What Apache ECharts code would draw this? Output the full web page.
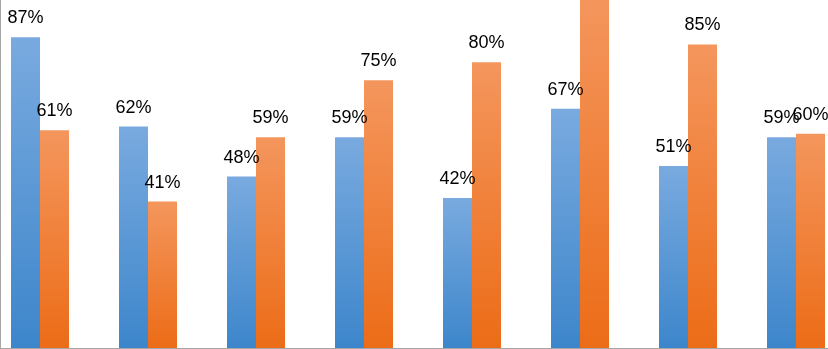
<!DOCTYPE html>
<html>
<head>
<meta charset="utf-8">
<script src="https://cdn.jsdelivr.net/npm/echarts@6/dist/echarts.min.js"></script>
<style>
  html, body { margin: 0; padding: 0; background: #fff; }
  #chart-1 { width: 828px; height: 349px; }
</style>
</head>
<body>
<div id="chart-1"></div>
<script>
const categories = ['1', '2', '3', '4', '5', '6', '7', '8'];
const seriesA = [87, 62, 48, 59, 42, 67, 51, 59];
const seriesB = [61, 41, 59, 75, 80, 98, 85, 60];

const TheChart = echarts.init(document.getElementById('chart-1'));

function grad(top, bottom) {
    return new echarts.graphic.LinearGradient(0, 0, 0, 1, [
        { offset: 0, color: top },
        { offset: 1, color: bottom }
    ]);
}

const label = {
    show: true,
    position: 'top',
    distance: 10,
    color: '#000',
    fontSize: 18,
    fontFamily: 'Liberation Sans',
    formatter: p => p.value + '%'
};

TheChart.setOption({
    animation: false,
    grid: { left: -14, right: -22, top: 0, bottom: 1, outerBoundsMode: 'none', containLabel: false },
    // left border of the cropped plot area
    graphic: [{
        type: 'line',
        shape: { x1: 0.5, y1: 0, x2: 0.5, y2: 349 },
        style: { stroke: '#a6a6a6', lineWidth: 1 }
    }],
    xAxis: {
        type: 'category',
        data: categories,
        axisLine: { lineStyle: { color: '#a6a6a6', width: 1 } },
        axisTick: { show: false },
        axisLabel: { show: false }
    },
    yAxis: {
        type: 'value',
        min: 0,
        max: 97.45,
        splitLine: { show: false },
        axisLine: { show: false },
        axisTick: { show: false },
        axisLabel: { show: false }
    },
    series: [{
        name: 'A',
        type: 'bar',
        data: seriesA,
        barWidth: 29,
        barGap: '0%',
        label: label,
        itemStyle: { color: grad('#79aadf', '#3d86cb') }
    }, {
        name: 'B',
        type: 'bar',
        data: seriesB,
        barWidth: 29,
        label: label,
        itemStyle: { color: grad('#f4965d', '#ec6c17') }
    }]
});
</script>
</body>
</html>
